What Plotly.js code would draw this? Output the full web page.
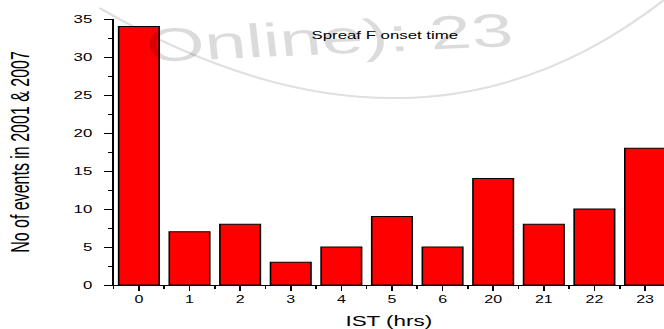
<!DOCTYPE html>
<html>
<head>
<meta charset="utf-8">
<script src="https://cdn.plot.ly/plotly-3.0.1.min.js"></script>
<style>
  html, body { margin: 0; padding: 0; background: #ffffff; overflow: hidden; }
  #wrap { width: 664px; height: 329px; position: relative; overflow: hidden; }
  #chart { width: 415px; height: 329px; transform: scaleX(1.6); transform-origin: 0 0; }
</style>
</head>
<body>
<div id="wrap"><div id="chart"></div></div>
<script>
// ---- data ----
const hours = ['0', '1', '2', '3', '4', '5', '6', '20', '21', '22', '23'];
const events = [34, 7, 8, 3, 5, 9, 5, 14, 8, 10, 18];
const yTicks = [0, 5, 10, 15, 20, 25, 30, 35];
const chartTitle = 'Spreaf F onset time';
const xTitle = 'IST (hrs)';
const yTitle = 'No of events in 2001 &amp; 2007';
const watermark = 'Online): 23';

const positions = hours.map((_, i) => i);

const trace = {
  type: 'bar',
  x: positions,
  y: events,
  width: 0.8,
  marker: { color: '#ff0000', line: { color: '#000000', width: 1 } },
  hoverinfo: 'skip'
};

const font = 'Liberation Sans, Arial, sans-serif';

const layout = {
  width: 415,
  height: 329,
  margin: { l: 71, r: 0, t: 19, b: 44, pad: 0 },
  paper_bgcolor: 'rgba(0,0,0,0)',
  plot_bgcolor: 'rgba(0,0,0,0)',
  showlegend: false,
  font: { family: font, color: '#000000' },
  title: {
    text: chartTitle,
    font: { family: font, size: 10.5, color: '#000000' },
    xref: 'paper', x: 0.4927, xanchor: 'center',
    yref: 'container', y: 0.894, yanchor: 'middle'
  },
  xaxis: {
    type: 'linear',
    range: [-0.5, 10.375],
    tickmode: 'array',
    tickvals: positions,
    ticktext: hours,
    ticks: 'outside', ticklen: 5, tickwidth: 1, tickcolor: '#000',
    minor: { tickmode: 'linear', tick0: 0.5, dtick: 1, ticks: 'outside', ticklen: 3, tickwidth: 1, tickcolor: '#000', showgrid: false },
    showline: true, linecolor: '#000', linewidth: 1,
    showgrid: false, zeroline: false,
    tickfont: { family: font, size: 10, color: '#000' },
    title: { text: xTitle, font: { family: font, size: 14, color: '#000' }, standoff: 12 },
    automargin: false,
    fixedrange: true
  },
  yaxis: {
    range: [0, 35],
    tickmode: 'array',
    tickvals: yTicks,
    ticks: 'outside', ticklen: 5, tickwidth: 1, tickcolor: '#000',
    minor: { tickmode: 'linear', tick0: 0, dtick: 2.5, ticks: 'outside', ticklen: 2.5, tickwidth: 1, tickcolor: '#000', showgrid: false },
    showline: true, linecolor: '#000', linewidth: 1.2,
    showgrid: false, zeroline: false,
    tickfont: { family: font, size: 10.5, color: '#000' },
    ticklabelstandoff: 5,
    title: { text: yTitle, font: { family: font, size: 16, color: '#000' }, standoff: 23 },
    automargin: false,
    fixedrange: true
  },
  annotations: [{
    text: watermark,
    xref: 'paper', yref: 'paper',
    x: 0.392, y: 1.068, xanchor: 'center', yanchor: 'top',
    textangle: -4,
    showarrow: false,
    font: { family: font, size: 47, color: 'rgba(0,0,0,0.14)' }
  }],
  shapes: [{
    type: 'path', xref: 'paper', yref: 'paper', layer: 'below',
    path: 'M -0.0255 1.041 Q 0.552 0.3496 1.0 1.0714',
    line: { color: '#e0e0e0', width: 2 }
  }]
};

Plotly.newPlot('chart', [trace], layout, { staticPlot: true, displayModeBar: false });
</script>
</body>
</html>
